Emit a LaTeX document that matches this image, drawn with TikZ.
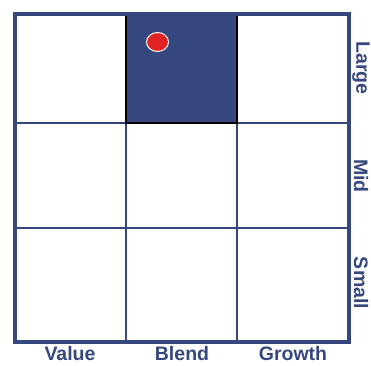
\documentclass[tikz,border=0pt]{standalone}
\usepackage{fontspec}
\setmainfont{Liberation Sans}
\usetikzlibrary{positioning, shapes.geometric}
\definecolor{navy}{RGB}{54,71,126}
\definecolor{dotred}{RGB}{226,35,36}

\begin{document}
\begin{tikzpicture}[x=1pt, y=-1pt,
    axislabel/.style={text=navy, font=\bfseries\fontsize{19.5}{19.5}\selectfont, inner sep=0pt},
    gridline/.style={draw=navy, line width=1.5pt}]
      \useasboundingbox (0, 0) rectangle (371, 365);
      % selected cell
      \fill [navy] (126, 14) rectangle (237, 123);
      % inner lines
      \draw [gridline] (126, 14) -- (126, 342);
      \draw [gridline] (237, 14) -- (237, 342);
      \draw [gridline] (15, 123) -- (349, 123);
      \draw [gridline] (15, 228) -- (349, 228);
      \draw [black, line width=1.5pt] (126, 14) rectangle (237, 123);
      % outer frame
      \draw [navy, line width=3.5pt] (15, 14) rectangle (349, 342);
      % dot
      \node (dot) [ellipse, fill=dotred, draw=white, line width=1pt, minimum width=22pt, minimum height=19pt, inner sep=0pt] at (157.5, 42) {};
      % column labels
      \node (value) [axislabel] at (70, 354) {Value};
      \node (blend) [axislabel] at (182, 354) {Blend};
      \node (growth) [axislabel] at (293, 354) {Growth};
      % row labels
      \node (large) [axislabel, rotate=-90] at (361, 68) {Large};
      \node (mid) [axislabel, rotate=-90] at (361, 176) {Mid};
      \node (small) [axislabel, rotate=-90] at (361, 283) {Small};
  \end{tikzpicture}
\end{document}
